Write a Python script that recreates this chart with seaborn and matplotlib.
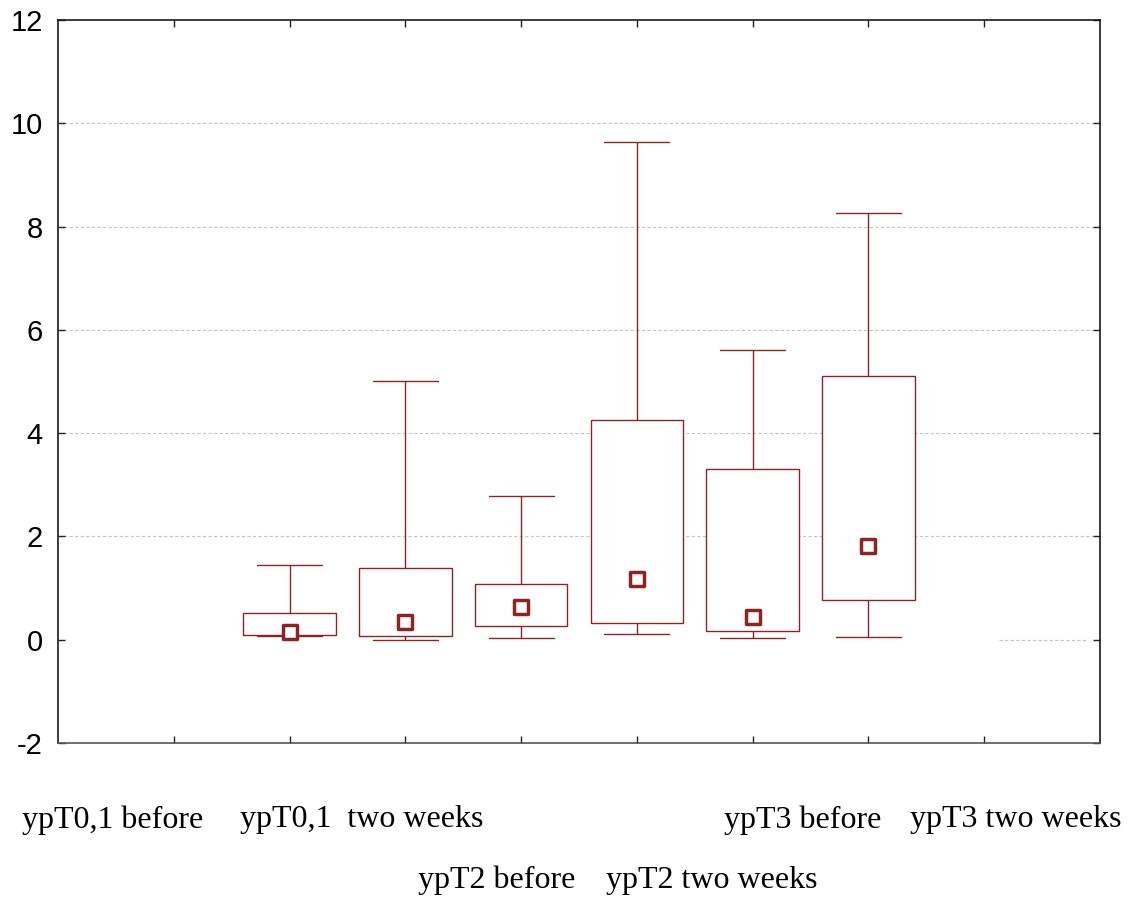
import numpy as np
import pandas as pd
import matplotlib
matplotlib.use('Agg')
import matplotlib.pyplot as plt
import matplotlib.transforms as mtransforms
import seaborn as sns

# values (box = quartiles, whiskers = min/max, square = median)
groups = ['ypT0,1 before', 'ypT0,1  two weeks', 'ypT2 before',
          'ypT2 two weeks', 'ypT3 before', 'ypT3 two weeks']
v_min = [0.08, 0.00, 0.03, 0.11, 0.03, 0.06]
v_q1 = [0.10, 0.07, 0.27, 0.32, 0.16, 0.76]
v_med = [0.14, 0.34, 0.64, 1.18, 0.44, 1.82]
v_q3 = [0.52, 1.38, 1.08, 4.26, 3.31, 5.11]
v_max = [1.45, 5.01, 2.79, 9.64, 5.61, 8.26]

# where the category names sit under the plot (x in data units, row)
label_x = [-1.53, 0.62, 1.79, 3.65, 4.43, 6.27]
label_row = [0, 0, 1, 1, 0, 0]

rows = []
for g, a, b, c, d, e in zip(groups, v_min, v_q1, v_med, v_q3, v_max):
    for v in (a, b, c, d, e):
        rows.append({'group': g, 'value': v})
df = pd.DataFrame(rows)
df_med = pd.DataFrame({'group': groups, 'value': v_med})

red = '#8b2424'

sns.set_style('white')
fig = plt.figure(figsize=(11.35, 8.98), dpi=100)
ax = fig.add_axes([58 / 1135, 1 - 743 / 898, 1042 / 1135, 723 / 898])

sns.boxplot(data=df, x='group', y='value', order=groups, whis=(0, 100),
            width=0.8, color='white', linecolor=red, linewidth=1.0,
            fill=True, showfliers=False,
            medianprops={'linewidth': 0}, ax=ax)
for box in ax.patches:
    box.set_facecolor('white')
    box.set_edgecolor(red)
    box.set_zorder(2)

# wider whisker caps, like the original
for ln in ax.lines:
    xd, yd = np.asarray(ln.get_xdata(), float), np.asarray(ln.get_ydata(), float)
    if len(xd) == 2 and yd[0] == yd[1] and xd[0] != xd[1]:
        c = xd.mean()
        ln.set_xdata([c - 0.28, c + 0.28])

# dashed grid (the 0 line only shows at the far right in the original)
for gy in [2, 4, 6, 8, 10]:
    ax.axhline(gy, color='#c4c4c4', lw=0.8, ls=(0, (3, 2)), zorder=0)
ax.axhline(0, xmin=0.903, xmax=0.988, color='#c4c4c4', lw=0.8, ls=(0, (3, 2)), zorder=0)

sns.scatterplot(data=df_med, x='group', y='value', marker='s', s=115,
                facecolor='white', edgecolor=red, linewidth=2.5, zorder=5, ax=ax)

ax.set_xlim(-2, 7)
ax.set_ylim(-2, 12)
ax.set_xticks(np.arange(-1, 7))
ax.set_xticklabels([])
ax.set_yticks(np.arange(-2, 13, 2))
ax.set_yticklabels([str(t) for t in range(-2, 13, 2)], fontsize=21,
                   family='Liberation Sans', color='black')
ax.tick_params(axis='both', direction='in', length=5, width=1, color='#222222',
               top=True, right=True, bottom=True, left=True, pad=11)
ax.set_xlabel('')
ax.set_ylabel('')
for s in ax.spines.values():
    s.set_visible(True)
    s.set_linewidth(1.2)
    s.set_color('#1a1a1a')
ax.spines['bottom'].set_color('#555555')

trans = mtransforms.blended_transform_factory(ax.transData, ax.transAxes)
for name, lx, r in zip(groups, label_x, label_row):
    ax.text(lx, -0.1065 - r * 0.083, name, transform=trans, ha='center', va='center',
            fontsize=23, family='Liberation Serif', color='black')

fig.savefig('out.png', dpi=100)
